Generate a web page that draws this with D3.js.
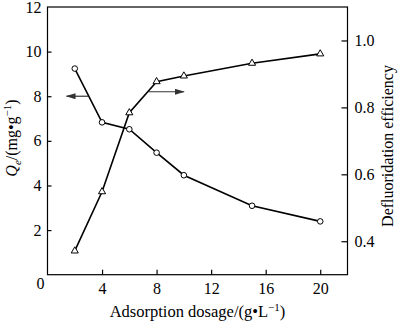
<!DOCTYPE html>
<html>
<head>
<meta charset="utf-8">
<script src="https://cdn.jsdelivr.net/npm/d3@7/dist/d3.min.js"></script>
<style>
  html, body { margin: 0; padding: 0; background: #fff; }
  svg { display: block; }
  text { font-family: "Liberation Serif", "Times New Roman", serif; fill: #000; }
</style>
</head>
<body>
<svg id="chart" width="400" height="322"></svg>
<script>
// Adsorption dosage (g/L)
const dosage = [2, 4, 6, 8, 10, 15, 20];
// Adsorption capacity Qe (mg/g), left axis
const qe = [9.24, 6.83, 6.52, 5.47, 4.46, 3.09, 2.39];
// Defluoridation efficiency, right axis
const efficiency = [0.371, 0.548, 0.784, 0.877, 0.894, 0.932, 0.960];

const xTicks = [4, 8, 12, 16, 20];
const yLeftTicks = [0, 2, 4, 6, 8, 10, 12];
const yRightTicks = [0.4, 0.6, 0.8, 1.0];

const svg = d3.select("#chart");
const plotLeft = 47.5, plotRight = 347.5, plotTop = 7, plotBottom = 274.7;

const x = d3.scaleLinear().domain([0, 22]).range([plotLeft, plotRight]);
const yL = d3.scaleLinear().domain([0, 12]).range([plotBottom, plotTop]);
const yR = d3.scaleLinear().domain([0.3, 1.1]).range([plotBottom, plotTop]);

// Frame
svg.append("rect")
  .attr("x", plotLeft).attr("y", plotTop)
  .attr("width", plotRight - plotLeft).attr("height", plotBottom - plotTop)
  .attr("fill", "none").attr("stroke", "#000").attr("stroke-width", 1.2);

const fontSize = 16;

// Bottom axis (ticks inward)
const gx = svg.append("g").attr("transform", `translate(0,${plotBottom})`)
  .call(d3.axisBottom(x).tickValues(xTicks).tickSizeInner(-5).tickSizeOuter(0).tickPadding(8));
gx.select(".domain").remove();
gx.selectAll("text").attr("font-size", fontSize);
gx.selectAll("line").attr("stroke-width", 1.2);

// Left axis
const gy = svg.append("g").attr("transform", `translate(${plotLeft},0)`)
  .call(d3.axisLeft(yL).tickValues(yLeftTicks).tickSizeInner(-4).tickSizeOuter(0).tickPadding(6));
gy.select(".domain").remove();
gy.selectAll("text").attr("font-size", fontSize);
gy.selectAll("line").attr("stroke-width", 1.2);
gy.selectAll(".tick").filter(d => d === 0 || d === 12).select("line").remove();
gy.selectAll(".tick").filter(d => d === 0).select("text").attr("dy", "0.85em").attr("x", -3);

// Right axis
const gr = svg.append("g").attr("transform", `translate(${plotRight},0)`)
  .call(d3.axisRight(yR).tickValues(yRightTicks).tickFormat(d3.format(".1f"))
    .tickSizeInner(-6).tickSizeOuter(0).tickPadding(7));
gr.select(".domain").remove();
gr.selectAll("text").attr("font-size", fontSize);
gr.selectAll("line").attr("stroke-width", 1.2);

// Axis titles
svg.append("text")
  .attr("x", (plotLeft + plotRight) / 2).attr("y", 317)
  .attr("text-anchor", "middle").attr("font-size", 16.5)
  .call(t => {
    t.append("tspan").text("Adsorption dosage/(g•L");
    t.append("tspan").attr("dy", -6).attr("font-size", 11).text("−1");
    t.append("tspan").attr("dy", 6).text(")");
  });

svg.append("text")
  .attr("transform", `translate(17,138) rotate(-90)`)
  .attr("text-anchor", "middle").attr("font-size", fontSize)
  .call(t => {
    t.append("tspan").attr("font-style", "italic").text("Q");
    t.append("tspan").attr("font-style", "italic").attr("font-size", 11).attr("dy", 4).text("e");
    t.append("tspan").attr("dy", -4).text("/(mg•g");
    t.append("tspan").attr("dy", -6).attr("font-size", 11).text("−1");
    t.append("tspan").attr("dy", 6).text(")");
  });

svg.append("text")
  .attr("transform", `translate(393,146) rotate(-90)`)
  .attr("text-anchor", "middle").attr("font-size", fontSize)
  .text("Defluoridation efficiency");

// Series lines
const qeData = dosage.map((d, i) => [d, qe[i]]);
const efData = dosage.map((d, i) => [d, efficiency[i]]);

svg.append("path")
  .datum(efData)
  .attr("fill", "none").attr("stroke", "#000").attr("stroke-width", 1.6)
  .attr("d", d3.line().x(d => x(d[0])).y(d => yR(d[1])));

svg.append("path")
  .datum(qeData)
  .attr("fill", "none").attr("stroke", "#000").attr("stroke-width", 1.6)
  .attr("d", d3.line().x(d => x(d[0])).y(d => yL(d[1])));

// Markers
svg.append("g").selectAll("path")
  .data(efData).join("path")
  .attr("transform", d => `translate(${x(d[0])},${yR(d[1])})`)
  .attr("d", d3.symbol(d3.symbolTriangle, 22))
  .attr("fill", "#fff").attr("stroke", "#000").attr("stroke-width", 1);

svg.append("g").selectAll("circle")
  .data(qeData).join("circle")
  .attr("cx", d => x(d[0])).attr("cy", d => yL(d[1]))
  .attr("r", 2.8)
  .attr("fill", "#fff").attr("stroke", "#000").attr("stroke-width", 1);

// Arrows pointing to each series' axis
const defs = svg.append("defs");
defs.append("marker")
  .attr("id", "arrow").attr("viewBox", "0 0 10 6")
  .attr("refX", 9).attr("refY", 3)
  .attr("markerWidth", 10).attr("markerHeight", 6)
  .attr("markerUnits", "userSpaceOnUse").attr("orient", "auto")
  .append("path").attr("d", "M0,0 L10,3 L0,6 Z").attr("fill", "#333");

svg.append("line")
  .attr("x1", x(3)).attr("x2", x(1.4))
  .attr("y1", yL(8)).attr("y2", yL(8))
  .attr("stroke", "#333").attr("stroke-width", 1.2)
  .attr("marker-end", "url(#arrow)");

svg.append("line")
  .attr("x1", x(7.4)).attr("x2", x(10))
  .attr("y1", yL(8.2)).attr("y2", yL(8.2))
  .attr("stroke", "#333").attr("stroke-width", 1.2)
  .attr("marker-end", "url(#arrow)");
</script>
</body>
</html>
